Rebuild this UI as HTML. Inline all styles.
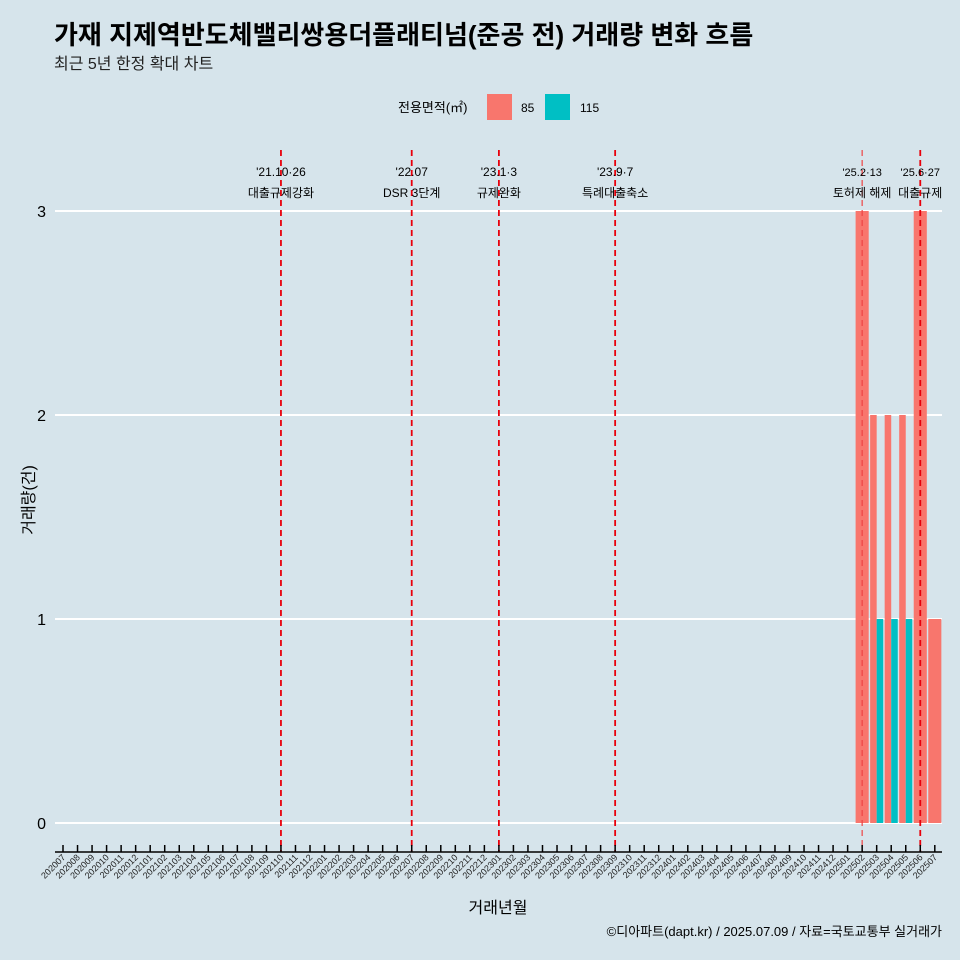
<!DOCTYPE html>
<html><head><meta charset="utf-8"><style>
body{margin:0;background:#d6e4eb;}
svg{display:block;font-family:"Liberation Sans","Noto Sans CJK KR",sans-serif;}
</style></head><body>
<svg id="chart" width="960" height="960" viewBox="0 0 960 960">
<rect width="960" height="960" fill="#d6e4eb"/>
<text x="54" y="44" font-size="26" font-weight="bold" fill="#000">가재 지제역반도체밸리쌍용더플래티넘(준공 전) 거래량 변화 흐름</text>
<text x="54" y="69" font-size="16" fill="#222">최근 5년 한정 확대 차트</text>
<g>
<text x="398" y="112" font-size="13">전용면적(㎡)</text>
<rect x="487" y="94" width="25" height="26" fill="#f8766d"/>
<text x="521" y="112" font-size="12">85</text>
<rect x="545" y="94" width="25" height="26" fill="#00bfc4"/>
<text x="580" y="112" font-size="12">115</text>
</g>
<g id="grid"></g><g id="bars"></g><g id="vlines"></g><g id="axes"></g>
<text x="498" y="913" font-size="16" text-anchor="middle">거래년월</text>
<text transform="translate(34,500) rotate(-90)" font-size="16" text-anchor="middle">거래량(건)</text>
<text x="942" y="936" font-size="13" text-anchor="end">©디아파트(dapt.kr) / 2025.07.09 / 자료=국토교통부 실거래가</text>
</svg>
<script>
const months = [];
for (let y = 2020; y <= 2025; y++) for (let m = 1; m <= 12; m++) { const s = y + String(m).padStart(2,'0'); if (s >= '202007' && s <= '202507') months.push(s); }
const series85 = {'202502':3,'202503':2,'202504':2,'202505':2,'202506':3,'202507':1};
const series115 = {'202503':1,'202504':1,'202505':1};
const yTicks = [0,1,2,3];
const eventMonths = ['202110','202207','202301','202309','202502','202506'];
const eventDates = ["'21.10·26","'22.07","'23.1·3","'23.9·7","'25.2·13","'25.6·27"];
const eventNames = ['대출규제강화','DSR 3단계','규제완화','특례대출축소','토허제 해제','대출규제'];

const NS='http://www.w3.org/2000/svg';
const x0=63, step=14.53, bw=13.1;
const xs = i => x0 + i*step;
const ys = v => 823 - v*204;
function mk(tag, attrs, parent){const e=document.createElementNS(NS,tag);for(const k in attrs)e.setAttribute(k,attrs[k]);document.getElementById(parent).appendChild(e);return e;}

yTicks.forEach(v=>{
  const l=mk('line',{x1:55,x2:942,y1:ys(v),y2:ys(v),stroke:'#fff','stroke-width':2},'grid');
  
  
  const t=mk('text',{x:46,y:ys(v)+6,'font-size':16,'text-anchor':'end'},'axes');
  t.textContent=v;
  
  
});

months.forEach((m,i)=>{
  const a=series85[m]||0, b=series115[m]||0, cx=xs(i);
  if(a&&b){
    const r1=mk('rect',{x:cx-bw/2,y:ys(a),width:bw/2,height:ys(0)-ys(a),fill:'#f8766d'},'bars');
    
    
    const r2=mk('rect',{x:cx,y:ys(b),width:bw/2,height:ys(0)-ys(b),fill:'#00bfc4'},'bars');
    
    
  } else if(a||b){
    const v=a||b;
    const r=mk('rect',{x:cx-bw/2,y:ys(v),width:bw,height:ys(0)-ys(v),fill:a?'#f8766d':'#00bfc4'},'bars');
    
    
  }
  const tk=mk('line',{x1:cx,x2:cx,y1:845,y2:852,stroke:'#000','stroke-width':1.5},'axes');
  
  
  const t=mk('text',{transform:`translate(${cx+3},${858}) rotate(-45)`,'font-size':9,'text-anchor':'end','fill':'#222'},'axes');
  t.textContent=m;
  
  
});
const ax=mk('line',{x1:55,x2:942,y1:852,y2:852,stroke:'#000','stroke-width':1.5},'axes');



eventMonths.forEach((m,k)=>{
  const cx=xs(months.indexOf(m));
  const thin = k===4;
  const l=mk('line',{x1:cx,x2:cx,y1:150,y2:852,stroke:thin?'#ee4444':'#e8000b','stroke-width':thin?1.2:1.8,'stroke-dasharray':'6,4'},'vlines');
  
  
  const small = k>=4;
  const t1=mk('text',{x:cx,y:176,'font-size':small?11:12,'text-anchor':'middle'},'vlines');
  t1.textContent=eventDates[k];
  
  
  const t2=mk('text',{x:cx,y:197,'font-size':12,'text-anchor':'middle'},'vlines');
  t2.textContent=eventNames[k];
  
  
});
</script>
</body></html>
